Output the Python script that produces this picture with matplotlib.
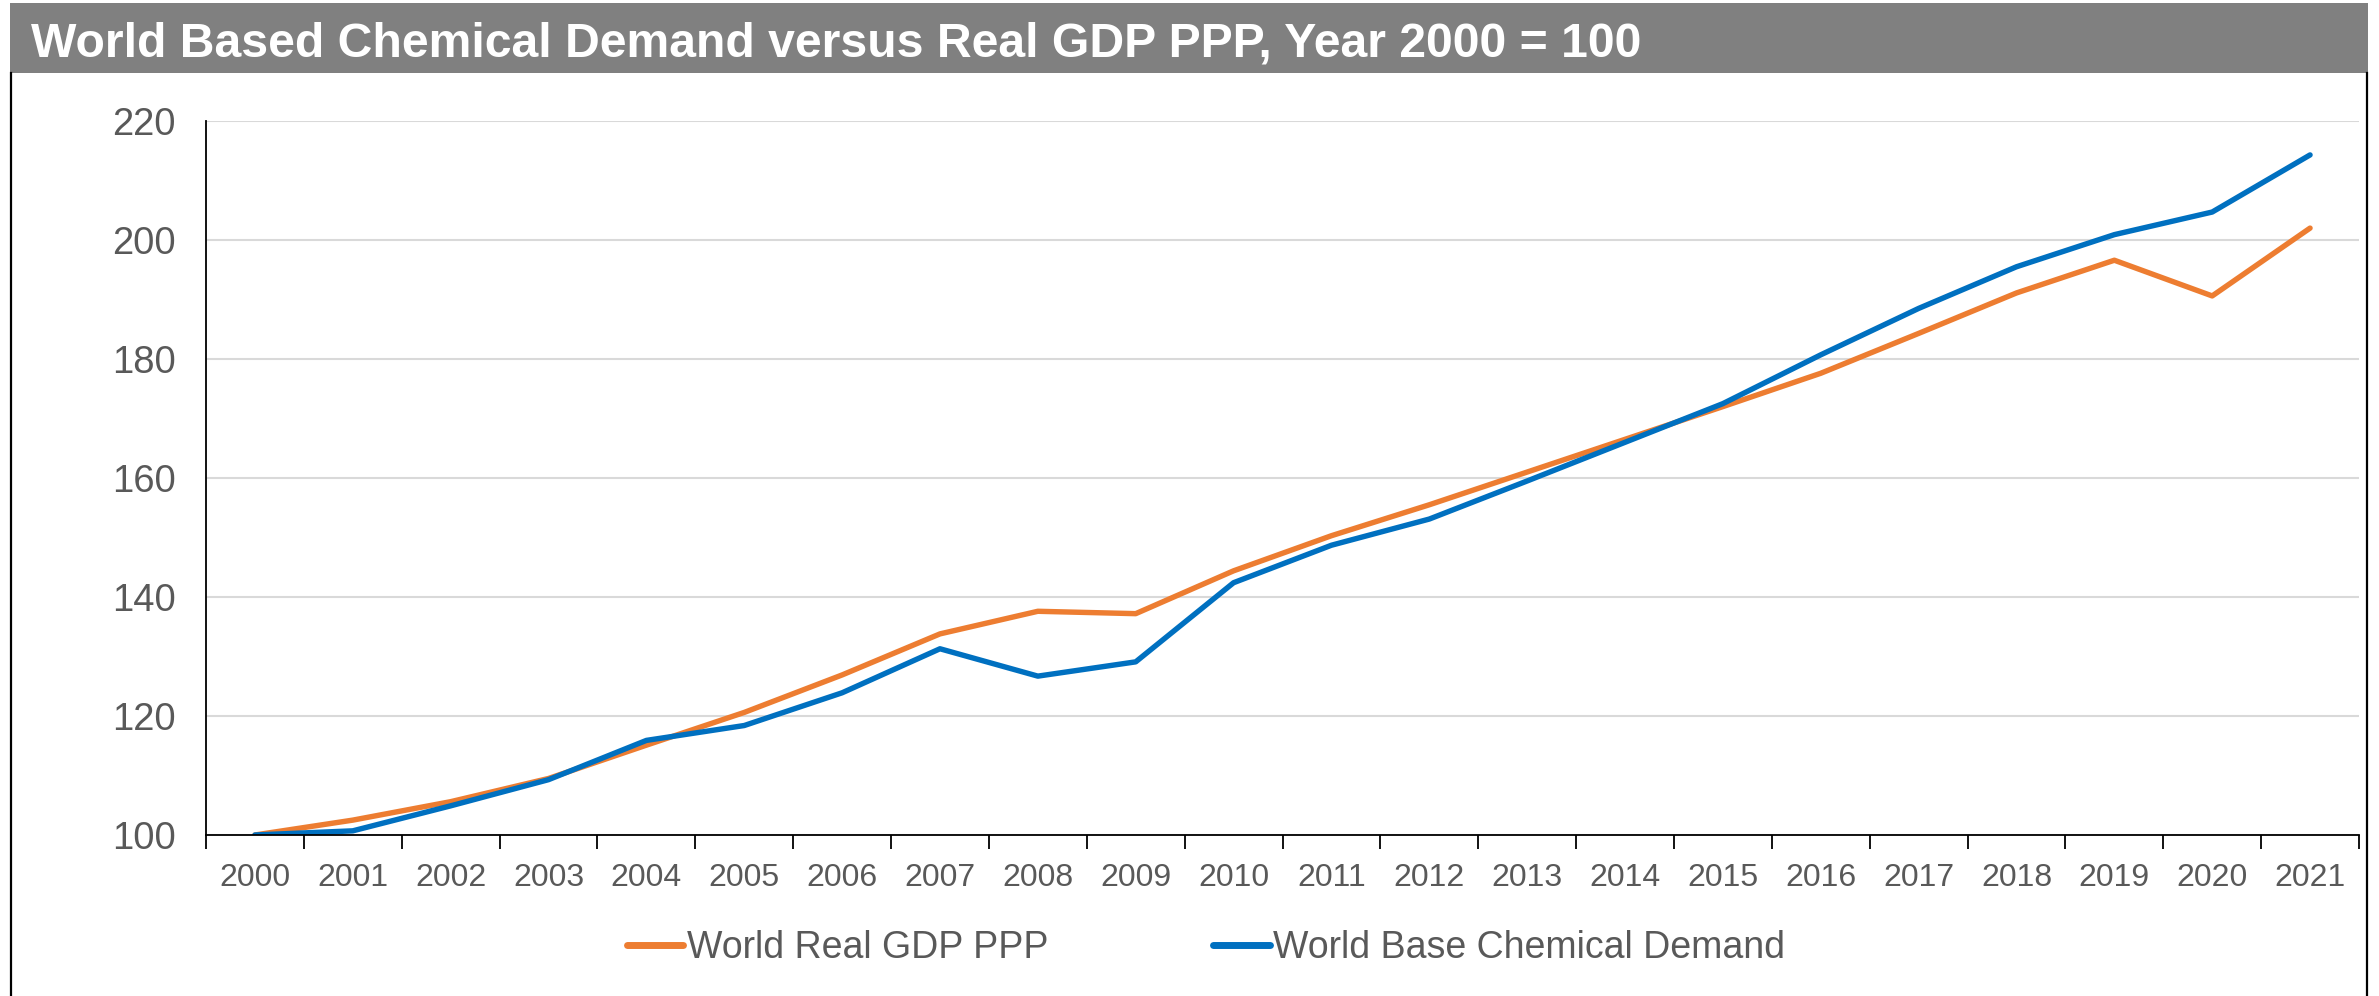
import matplotlib
matplotlib.use("Agg")
import matplotlib.pyplot as plt
from matplotlib.patches import Rectangle
from matplotlib.lines import Line2D

plt.rcParams['font.family'] = ['Liberation Sans', 'DejaVu Sans']

years = [str(y) for y in range(2000, 2022)]
gdp = [100.0, 102.5, 105.6, 109.5, 115.1, 120.6, 126.9, 133.8, 137.6, 137.2,
       144.4, 150.3, 155.5, 161.0, 166.5, 172.0, 177.6, 184.3, 191.1, 196.6,
       190.6, 202.0]
chem = [100.0, 100.7, 104.9, 109.3, 115.9, 118.4, 123.9, 131.3, 126.7, 129.1,
        142.4, 148.7, 153.1, 159.5, 166.0, 172.5, 180.7, 188.5, 195.5, 200.9,
        204.7, 214.3]
title = "World Based Chemical Demand versus Real GDP PPP, Year 2000 = 100"
series_names = ["World Real GDP PPP", "World Base Chemical Demand"]
y_ticks = [100, 120, 140, 160, 180, 200, 220]

W, H = 2379, 996
ORANGE = "#ED7D31"
BLUE = "#0070C0"
TEXT = "#595959"

fig = plt.figure(figsize=(W / 100, H / 100), dpi=100)

def fx(px):
    return px / W

def fy(py):
    return 1 - py / H

# title banner
fig.patches.append(Rectangle((fx(10), fy(73)), fx(2368) - fx(10), fy(3) - fy(73),
                             transform=fig.transFigure, facecolor="#808080",
                             edgecolor="none", zorder=0))
fig.text(fx(31), fy(44), title, color="white", fontsize=34.7, fontweight="bold",
         ha="left", va="center")

# frame sides
for xpix in (11, 2367):
    fig.lines.append(Line2D([fx(xpix), fx(xpix)], [0, fy(73)], transform=fig.transFigure,
                            color="black", linewidth=1.6))

ax = fig.add_axes([fx(206), fy(835), fx(2359) - fx(206), fy(121) - fy(835)])
x = list(range(len(years)))
ax.plot(x, gdp, color=ORANGE, linewidth=3.9, label=series_names[0], solid_capstyle="round")
ax.plot(x, chem, color=BLUE, linewidth=3.9, label=series_names[1], solid_capstyle="round")

ax.set_xlim(-0.5, len(years) - 0.5)
ax.set_ylim(100, 220)
ax.set_yticks(y_ticks)
ax.set_yticklabels([str(v) for v in y_ticks])
ax.set_xticks(x)
ax.set_xticklabels(years)
ax.set_xticks([i - 0.5 for i in range(len(years) + 1)], minor=True)

ax.grid(axis="y", color="#D9D9D9", linewidth=1.5)
ax.set_axisbelow(True)
for s in ("top", "right"):
    ax.spines[s].set_visible(False)
ax.spines["left"].set_color("#000000")
ax.spines["left"].set_linewidth(1.3)
ax.spines["bottom"].set_color("#000000")
ax.spines["bottom"].set_linewidth(1.3)

ax.tick_params(axis="y", length=0, pad=22, labelsize=27.5, labelcolor=TEXT)
ax.tick_params(axis="x", which="major", length=0, pad=20, labelsize=23, labelcolor=TEXT)
ax.tick_params(axis="x", which="minor", length=10, width=1.3, color="#000000")

leg = fig.legend(loc="center", bbox_to_anchor=(fx(1206), fy(948)), ncol=2, frameon=False,
                 fontsize=27, handlelength=1.5, handletextpad=0.1, columnspacing=4.4,
                 labelcolor=TEXT)
for h in leg.get_lines():
    h.set_linewidth(5)

fig.savefig("out.png", dpi=100)
